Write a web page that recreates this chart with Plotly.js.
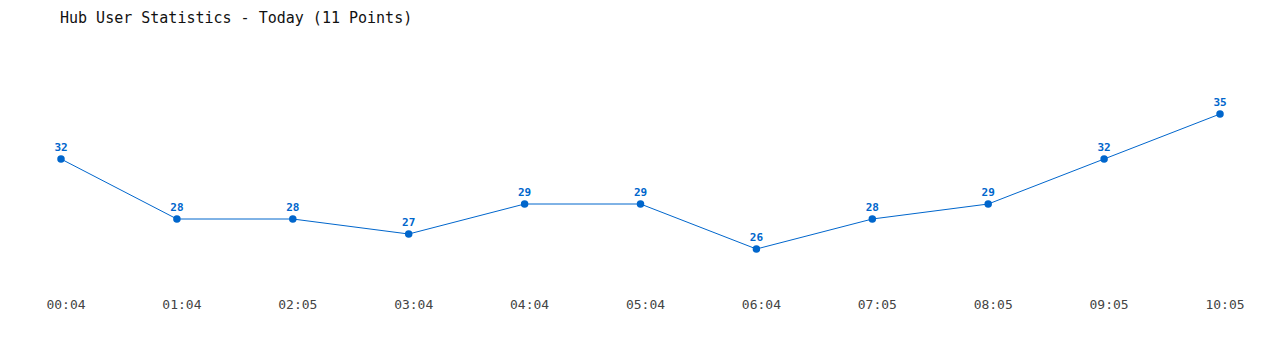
<!DOCTYPE html>
<html>
<head>
<meta charset="utf-8">
<script src="https://cdn.plot.ly/plotly-3.0.1.min.js"></script>
<style>html,body{margin:0;padding:0;background:#fff;}#chart{width:1280px;height:350px;}</style>
</head>
<body>
<div id="chart"></div>
<script>
var times = ["00:04","01:04","02:05","03:04","04:04","05:04","06:04","07:05","08:05","09:05","10:05"];
var users = [32,28,28,27,29,29,26,28,29,32,35];
var chartTitle = "Hub User Statistics - Today (11 Points)";

var trace = {
  x: times.map(function(_, i){ return i; }),
  y: users,
  mode: "lines+markers+text",
  text: users.map(String),
  textposition: "top center",
  textfont: {family: "DejaVu Sans Mono, monospace", size: 11, color: "#0066CC", weight: "bold"},
  line: {color: "#0066CC", width: 1},
  marker: {color: "#0066CC", size: 7.5},
  cliponaxis: false,
  hoverinfo: "skip"
};

var layout = {
  width: 1280, height: 350,
  margin: {l: 61, r: 60, t: 60, b: 65},
  paper_bgcolor: "#fff", plot_bgcolor: "#fff",
  showlegend: false,
  title: {
    text: chartTitle,
    x: 60/1280, xref: "container", xanchor: "left",
    y: 1 - 18/350, yref: "container", yanchor: "middle",
    font: {family: "DejaVu Sans Mono, monospace", size: 15, color: "#111"}
  },
  xaxis: {
    range: [0, 10], autorange: false,
    tickmode: "array",
    tickvals: times.map(function(_, i){ return i; }),
    ticktext: times,
    showgrid: false, zeroline: false, showline: false, ticks: "",
    ticklabelshift: 5,
    ticklabelstandoff: 10,
    tickfont: {family: "DejaVu Sans Mono, monospace", size: 13, color: "#444"}
  },
  yaxis: {
    range: [23.6, 38.6], autorange: false,
    visible: false, showgrid: false, zeroline: false
  }
};

Plotly.newPlot("chart", [trace], layout, {displayModeBar: false, staticPlot: true});
</script>
</body>
</html>
